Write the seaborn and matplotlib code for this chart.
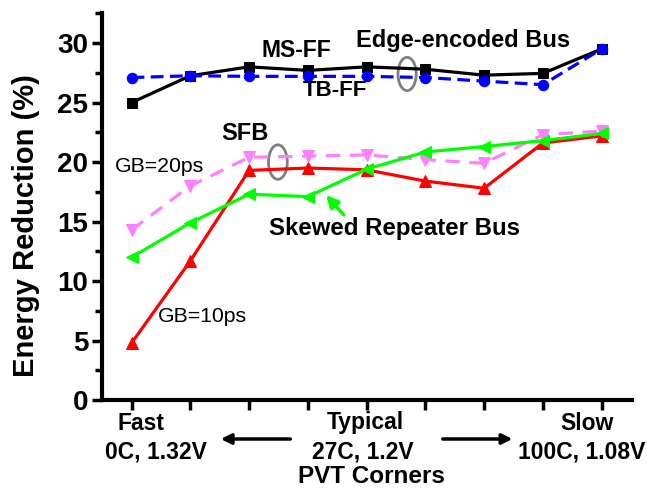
import numpy as np
import pandas as pd
import matplotlib
matplotlib.use("Agg")
import matplotlib.pyplot as plt
from matplotlib.patches import Ellipse
from matplotlib.ticker import MultipleLocator
from matplotlib.transforms import blended_transform_factory
import seaborn as sns

# PVT corner index (0 = fast ... 8 = slow)
corners = list(range(9))
corner_names = ["Fast", "Typical", "Slow"]
corner_conditions = ["0C, 1.32V", "27C, 1.2V", "100C, 1.08V"]

# energy reduction (%) per design
ms_ff = [25.0, 27.25, 28.0, 27.7, 28.0, 27.8, 27.3, 27.45, 29.5]
tb_ff = [27.1, 27.25, 27.2, 27.2, 27.2, 27.1, 26.8, 26.5, 29.5]
sfb_gb10 = [4.8, 11.7, 19.3, 19.5, 19.35, 18.4, 17.8, 21.6, 22.2]
sfb_gb20 = [14.3, 18.0, 20.4, 20.5, 20.6, 20.2, 19.9, 22.3, 22.6]
skewed = [12.0, 14.9, 17.3, 17.1, 19.4, 20.85, 21.3, 21.8, 22.4]

sns.set_style("ticks")
plt.rcParams["font.family"] = ["Liberation Sans", "DejaVu Sans"]
plt.rcParams.update({"text.color": "black", "axes.labelcolor": "black",
                     "xtick.color": "black", "ytick.color": "black",
                     "axes.edgecolor": "black"})

fig = plt.figure(figsize=(6.47, 4.91), dpi=100)
ax = fig.add_axes([0.158, 0.185, 0.819, 0.788])

lw = 2.3
series = [
    (ms_ff, "black", "s", "-", 6.5),
    (tb_ff, "#0000FF", "o", (0, (4, 2)), 7.5),
    (sfb_gb10, "#FF0000", "^", "-", 8.5),
    (sfb_gb20, "#FF80FF", "v", (0, (4.5, 3)), 8.5),
    (skewed, "#00FF00", "<", "-", 8.5),
]
for vals, col, mk, ls, ms in series:
    df = pd.DataFrame({"corner": corners, "reduction": vals})
    sns.lineplot(data=df, x="corner", y="reduction", ax=ax, color=col,
                 marker=mk, markersize=ms, markeredgecolor=col,
                 markerfacecolor=col, linewidth=lw, linestyle=ls)

ax.set_xlim(-0.5, 8.52)
ax.set_ylim(0, 32.5)
ax.set_xticks(corners)
ax.set_xticklabels([])
ax.yaxis.set_major_locator(MultipleLocator(5))
ax.yaxis.set_minor_locator(MultipleLocator(2.5))
ax.tick_params(axis="y", which="major", labelsize=20, width=2.5, length=7, pad=3)
ax.tick_params(axis="y", which="minor", width=2.5, length=5)
ax.tick_params(axis="x", which="major", width=2.5, length=7)
for lab in ax.get_yticklabels():
    lab.set_fontweight("bold")

ax.set_ylabel("Energy Reduction (%)", fontsize=21, fontweight="bold")
ax.yaxis.set_label_coords(-0.117, 0.452)
ax.set_xlabel("PVT Corners", fontsize=17.5, fontweight="bold")
ax.xaxis.set_label_coords(0.508, -0.168)

sns.despine(ax=ax)
for side in ("left", "bottom"):
    ax.spines[side].set_linewidth(3)

# corner labels below the axis (x in data units, y in figure fraction)
tr = blended_transform_factory(ax.transData, fig.transFigure)
name_x = [0.165, 3.97, 7.75]
cond_x = [0.42, 3.94, 7.66]
for nx, cx, name, cond in zip(name_x, cond_x, corner_names, corner_conditions):
    ax.text(nx, 1 - 423 / 491, name, transform=tr, fontsize=16.5, fontweight="bold",
            ha="center", va="center")
    ax.text(cx, 1 - 452 / 491, cond, transform=tr, fontsize=16.5, fontweight="bold",
            ha="center", va="center")

# direction arrows between the corner labels
arrow_y = 1 - 439 / 491
for tail, head in [(2.75, 1.47), (5.25, 6.53)]:
    ax.annotate("", xy=(head, arrow_y), xytext=(tail, arrow_y),
                xycoords=("data", "figure fraction"), textcoords=("data", "figure fraction"),
                arrowprops=dict(arrowstyle="-|>", color="black", lw=2.5, mutation_scale=15),
                annotation_clip=False)

# series annotations
ax.text(2.80, 29.4, "MS-FF", fontsize=16.5, fontweight="bold", ha="center", va="center")
ax.text(3.46, 26.0, "TB-FF", fontsize=16, fontweight="bold", ha="center", va="center")
ax.text(5.64, 30.2, "Edge-encoded Bus", fontsize=17, fontweight="bold", ha="center", va="center")
ax.text(1.93, 22.4, "SFB", fontsize=17, fontweight="bold", ha="center", va="center")
ax.text(0.47, 19.6, "GB=20ps", fontsize=15.3, ha="center", va="center")
ax.text(1.20, 7.05, "GB=10ps", fontsize=15.3, ha="center", va="center")
ax.text(4.48, 14.4, "Skewed Repeater Bus", fontsize=17.3, fontweight="bold", ha="center", va="center")

ax.add_patch(Ellipse((4.69, 27.4), 0.31, 2.8, facecolor="none", edgecolor="#808080", lw=2))
ax.add_patch(Ellipse((2.49, 20.0), 0.32, 2.9, facecolor="none", edgecolor="#808080", lw=2))

ax.annotate("", xy=(3.28, 17.4), xytext=(3.64, 15.4),
            arrowprops=dict(arrowstyle="-|>", color="#00FF00", lw=2.5, mutation_scale=18))

fig.savefig("out.png", dpi=100)
